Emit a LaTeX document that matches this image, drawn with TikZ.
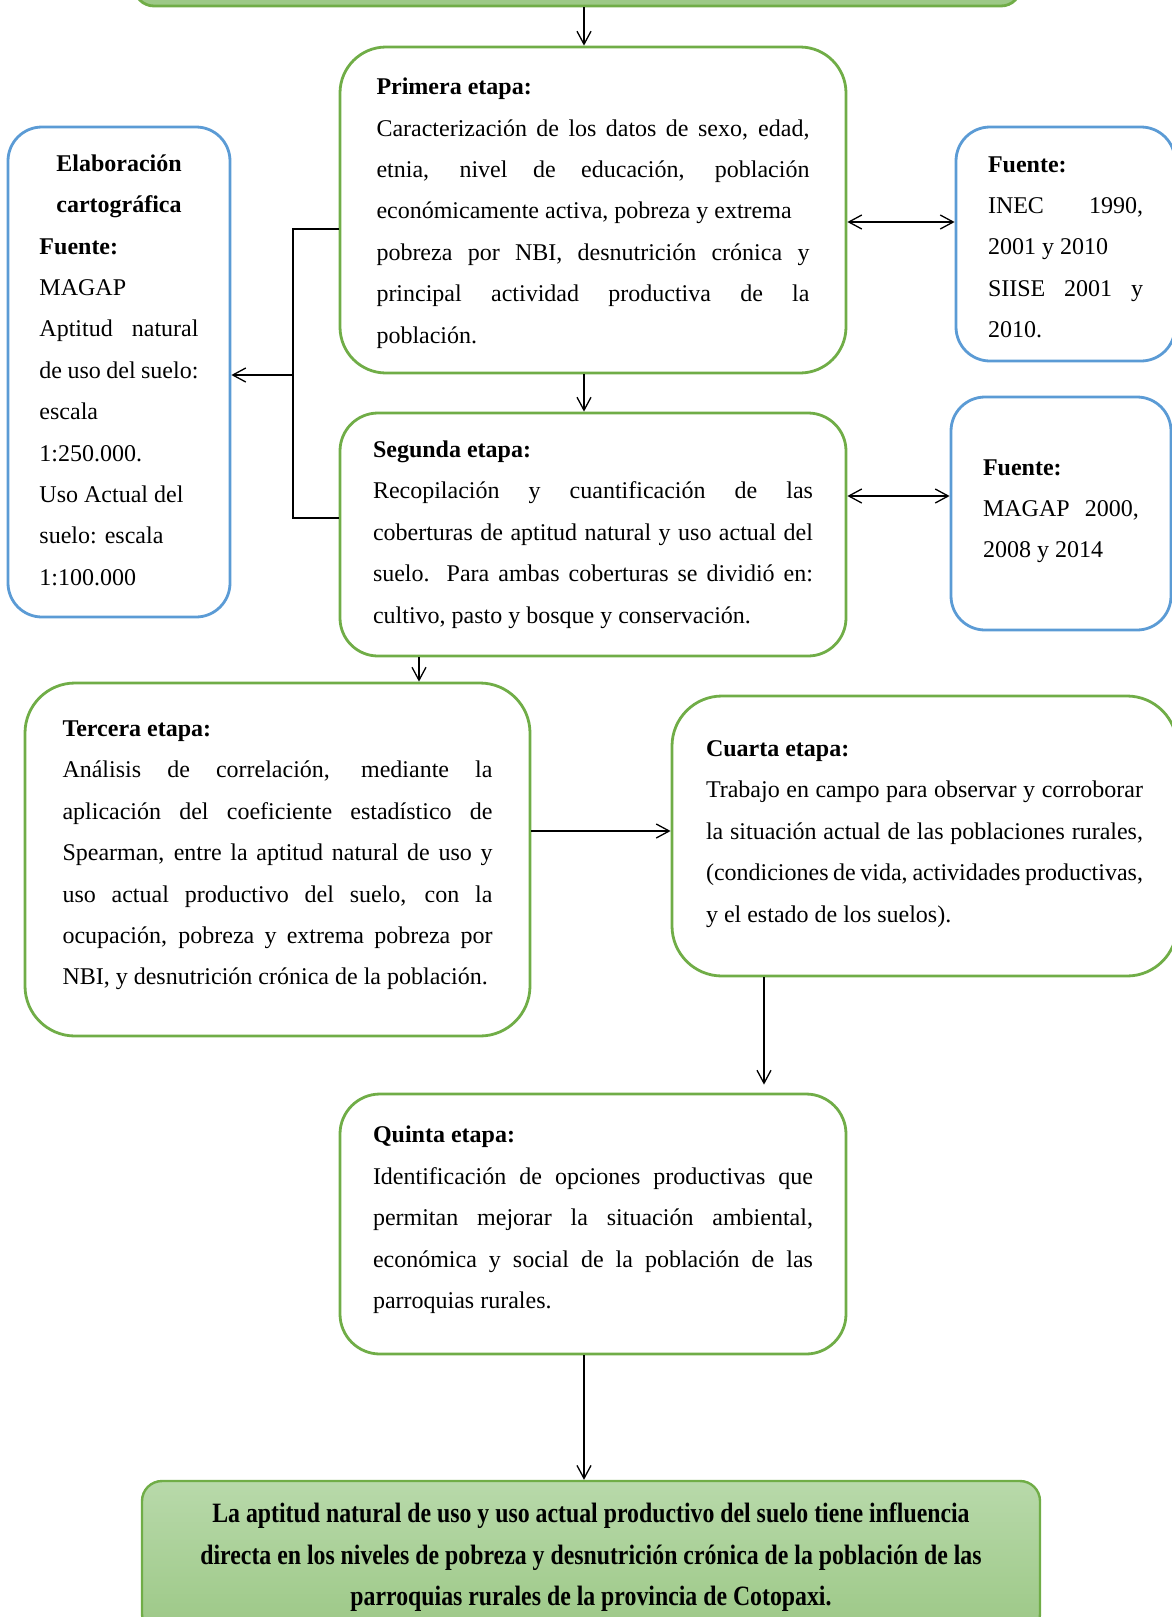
\documentclass[tikz,border=0pt]{standalone}
\usepackage{fontspec}
\setmainfont{Liberation Serif}
\newfontfamily\resultfont[FakeStretch=0.85]{Liberation Serif}
\usetikzlibrary{positioning,arrows.meta}
\usepackage{xcolor}
\definecolor{stageline}{HTML}{70AD47}
\definecolor{srcline}{HTML}{5B9BD5}
\definecolor{goalfill}{HTML}{9DC987}
\definecolor{resulttop}{HTML}{B8D9AA}
\definecolor{resultbot}{HTML}{9CC886}

\tikzset{
  stagebox/.style={draw=stageline, line width=1.4pt, rounded corners=20pt, align=justify,
    inner sep=0pt, font=\fontsize{12}{20.7}\selectfont},
  srcbox/.style={draw=srcline, line width=1.4pt, rounded corners=17pt, align=justify,
    inner sep=0pt, font=\fontsize{12}{20.7}\selectfont},
  link/.style={-{Straight Barb[length=6.5pt,width=7pt]}, line width=0.65pt},
  duallink/.style={{Straight Barb[length=6.5pt,width=7pt]}-{Straight Barb[length=6.5pt,width=7pt]}, line width=0.65pt}
}

\begin{document}
\begin{tikzpicture}[x=0.5pt,y=-0.5pt]
  \useasboundingbox (0,0) rectangle (1172,1617);

  % hypothesis box, cut by the top edge
  \node[draw=stageline, fill=goalfill, line width=1.4pt, rounded corners=10pt,
        minimum width=443.5pt, minimum height=33pt] (goal) at (577.5,-27) {};

  % stages
  \node[stagebox, rounded corners=23pt, text width=216.5pt, minimum width=253pt, minimum height=163pt] (stage1) at (593,210) {%
    \rule{0pt}{11.4pt}\textbf{Primera etapa:}\\
    Caracterización de los datos de sexo, edad,\linebreak
    etnia, nivel de educación, población\linebreak
    \mbox{económicamente activa, pobreza y extrema}\\
    pobreza por NBI, desnutrición crónica y\linebreak
    principal actividad productiva de la\linebreak
    población.};

  \node[stagebox, rounded corners=19pt, text width=220pt, minimum width=253pt, minimum height=121.5pt] (stage2) at (593,534.5) {%
    \textbf{Segunda etapa:}\\
    Recopilación y cuantificación de las\linebreak
    coberturas de aptitud natural y uso actual del\linebreak
    suelo. Para ambas coberturas se dividió en:\linebreak
    cultivo, pasto y bosque y conservación.};

  \node[stagebox, rounded corners=25pt, text width=215pt, minimum width=252.5pt, minimum height=176.5pt] (stage3) at (277.5,859.5) {%
    \textbf{Tercera etapa:}\\
    Análisis de correlación, mediante la\linebreak
    aplicación del coeficiente estadístico de\linebreak
    Spearman, entre la aptitud natural de uso y\linebreak
    uso actual productivo del suelo, con la\linebreak
    ocupación, pobreza y extrema pobreza por\linebreak
    NBI, y desnutrición crónica de la población.\rule[-6.6pt]{0pt}{6.6pt}};

  \node[stagebox, rounded corners=25pt, text width=218.5pt, minimum width=252.5pt, minimum height=140pt] (stage4) at (924.5,836) {%
    \textbf{Cuarta etapa:}\\
    Trabajo en campo para observar y corroborar\linebreak
    la situación actual de las poblaciones rurales,\linebreak
    (condiciones de vida, actividades productivas,\linebreak
    y el estado de los suelos).\rule[-4.6pt]{0pt}{4.6pt}};

  \node[stagebox, text width=220pt, minimum width=253pt, minimum height=130pt] (stage5) at (593,1224) {%
    \textbf{Quinta etapa:}\\
    Identificación de opciones productivas que\linebreak
    permitan mejorar la situación ambiental,\linebreak
    económica y social de la población de las\linebreak
    parroquias rurales.\rule[-6.6pt]{0pt}{6.6pt}};

  % sources
  \node[srcbox, text width=79.5pt, minimum width=111pt, minimum height=245pt] (carto) at (119,372) {%
    \makebox[\hsize]{\textbf{Elaboración}}\\
    \makebox[\hsize]{\textbf{cartográfica}}\\
    \textbf{Fuente:}\\
    MAGAP\\
    Aptitud natural\linebreak
    de uso del suelo:\\
    escala\\
    1:250.000.\\
    Uso Actual del\\
    suelo: escala\\
    1:100.000\rule[-2pt]{0pt}{2pt}};

  \node[srcbox, text width=77.5pt, minimum width=109.5pt, minimum height=117pt] (src1) at (1065.5,244) {%
    \rule{0pt}{11pt}\textbf{Fuente:}\\
    INEC 1990,\linebreak
    2001 y 2010\\
    SIISE 2001 y\linebreak
    2010.};

  \node[srcbox, text width=78pt, minimum width=110pt, minimum height=116.5pt] (src2) at (1061,513.5) {%
    \textbf{Fuente:}\\
    MAGAP 2000,\linebreak
    2008 y 2014\rule[-4.8pt]{0pt}{4.8pt}};

  % conclusion, cut by the bottom edge
  \node[draw=stageline, top color=resulttop, bottom color=resultbot, line width=1.2pt, rounded corners=10pt,
        minimum width=449pt, minimum height=76.5pt, align=center,
        font=\resultfont\bfseries\fontsize{14}{20.7}\selectfont] (result) at (591,1557.5) {%
    La aptitud natural de uso y uso actual productivo del suelo tiene influencia\\
    directa en los niveles de pobreza y desnutrición crónica de la población de las\\
    parroquias rurales de la provincia de Cotopaxi.};

  % helper points
  \coordinate (spine) at (584,0);
  \coordinate (brtop) at (293,229);
  \coordinate (brmid) at (293,375);
  \coordinate (brbot) at (293,518);
  \coordinate (rowa) at (0,222);
  \coordinate (rowb) at (0,496);
  \coordinate (rowc) at (0,831);

  % connectors
  \draw[link] (goal.south -| spine) -- (stage1.north -| spine);
  \draw[link] (stage1.south -| spine) -- (stage2.north -| spine);
  \draw[link] (stage2.south -| 419,0) -- (stage3.north -| 419,0);
  \draw[link] (stage3.east |- rowc) -- (stage4.west |- rowc);
  \draw[link, shorten >=4pt] (stage4.south -| 764,0) -- (stage5.north -| 764,0);
  \draw[link] (stage5.south -| spine) -- (result.north -| spine);
  \draw[duallink] (stage1.east |- rowa) -- (src1.west |- rowa);
  \draw[duallink] (stage2.east |- rowb) -- (src2.west |- rowb);
  \draw[line width=0.65pt] (stage1.west |- brtop) -- (brtop) -- (brbot) -- (stage2.west |- brbot);
  \draw[link] (brmid) -- (carto.east |- brmid);
\end{tikzpicture}
\end{document}
